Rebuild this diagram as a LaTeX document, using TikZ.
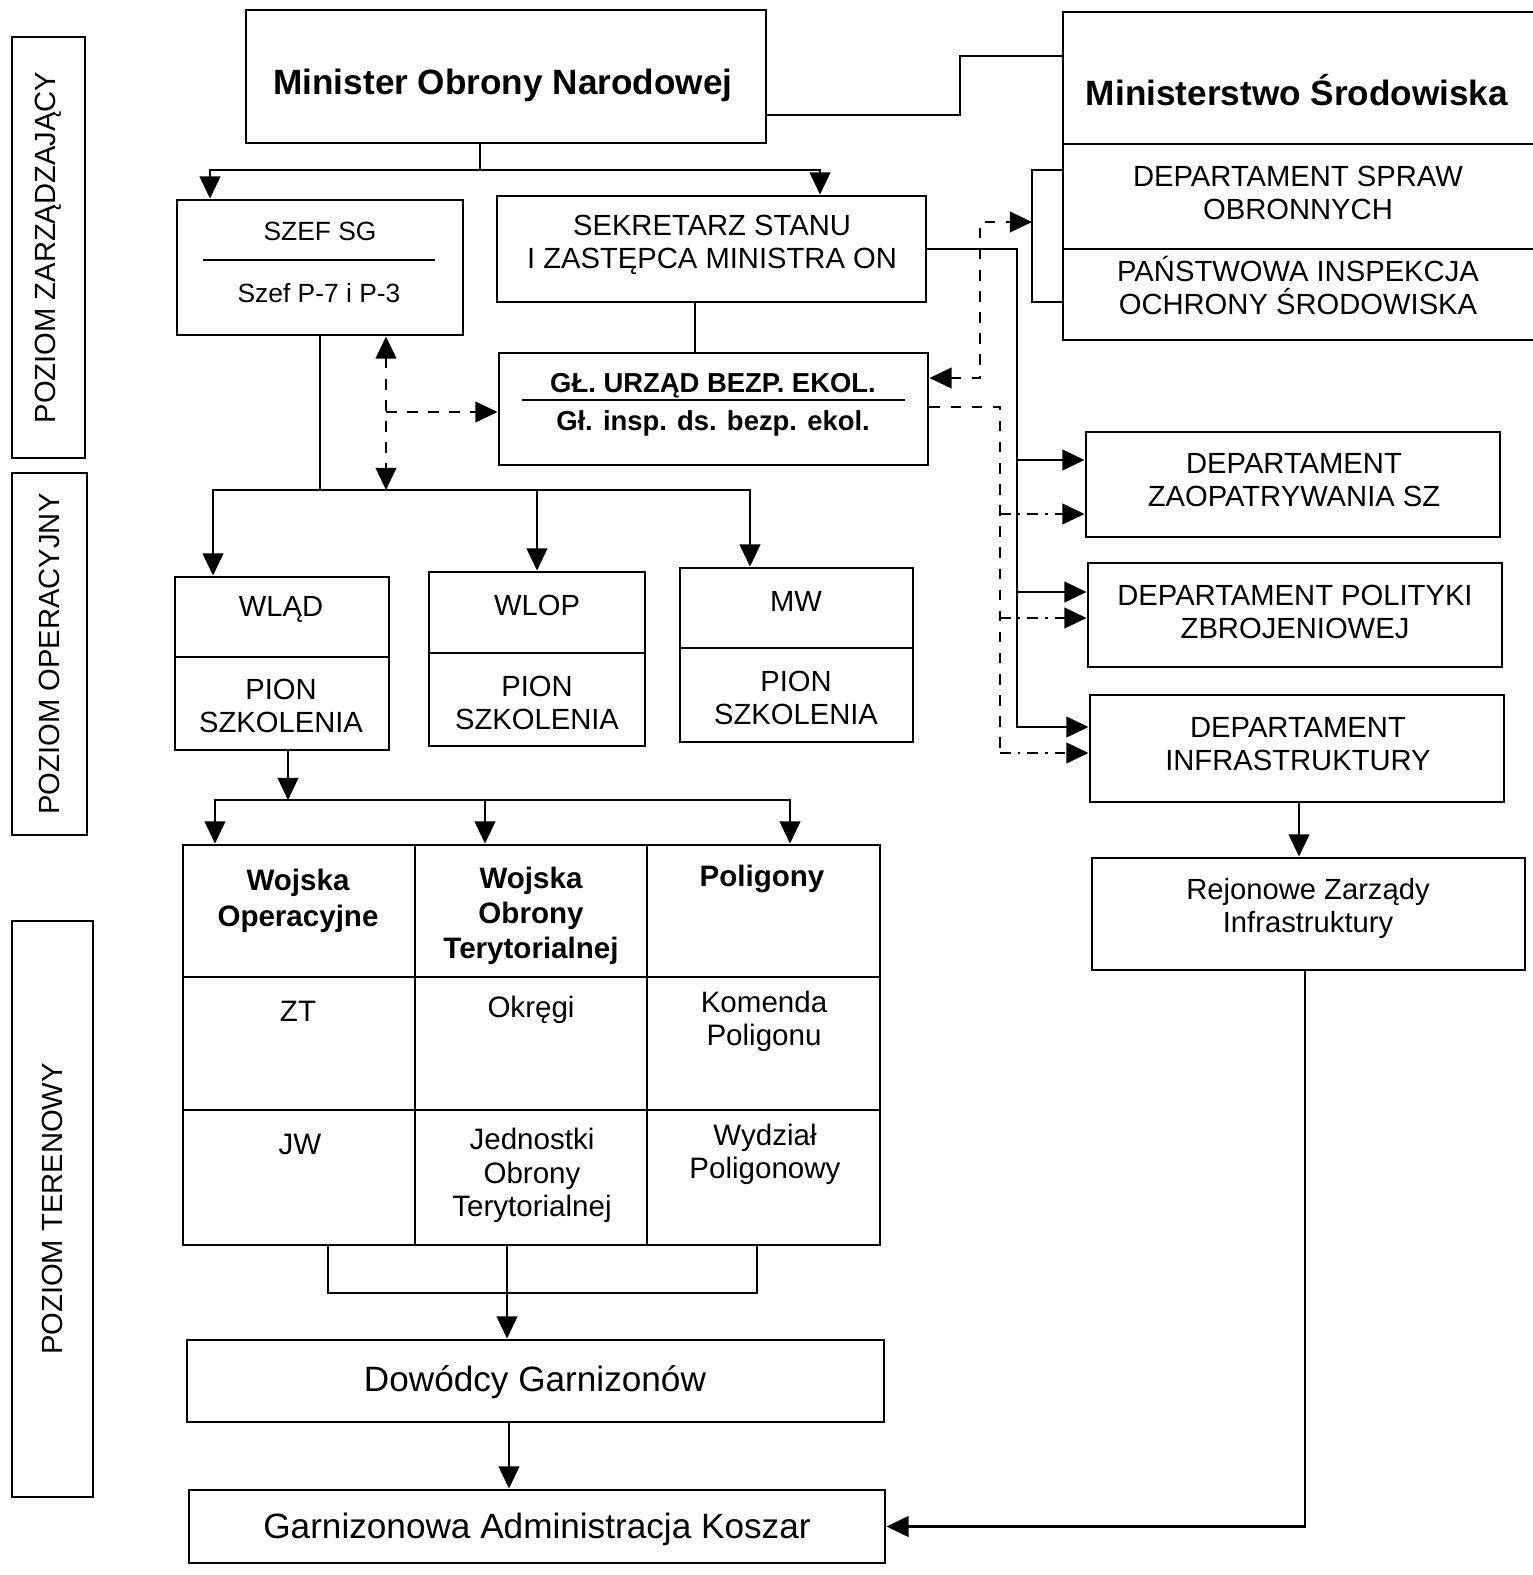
\documentclass[tikz,border=0pt]{standalone}
\usepackage{fontspec}
\setmainfont{Liberation Sans}
\usetikzlibrary{arrows.meta,fit}
\begin{document}
\begin{tikzpicture}[x=0.01cm,y=-0.01cm,
 box/.style={draw, line width=0.8pt, inner sep=0pt},
 conn/.style={line width=0.8pt},
 arr/.style={-{Triangle[length=6.3pt,width=5.8pt]}},
 darr/.style={{Triangle[length=6.3pt,width=5.8pt]}-{Triangle[length=6.3pt,width=5.8pt]}},
 txt/.style={font=\fontsize{8.3}{9.4}\selectfont, align=center, inner sep=0pt, yshift=-1.2pt},
 small/.style={font=\fontsize{7.5}{9}\selectfont, align=center, inner sep=0pt, yshift=-1pt},
 hdr/.style={font=\fontsize{8.4}{10}\selectfont\bfseries, align=center, inner sep=0pt, yshift=-1.4pt},
 cell/.style={font=\fontsize{8.4}{9.5}\selectfont, align=center, inner sep=0pt, yshift=-1.3pt},
 gl/.style={font=\fontsize{7.8}{9}\selectfont\bfseries, align=center, inner sep=0pt, yshift=-1pt},
 big/.style={font=\fontsize{10}{12}\selectfont\bfseries, align=center, inner sep=0pt, yshift=-1pt},
 large/.style={font=\fontsize{10}{12}\selectfont, align=center, inner sep=0pt, yshift=-1.3pt},
 lvl/.style={font=\fontsize{8.3}{10}\selectfont, inner sep=0pt, rotate=90}
]
\useasboundingbox (0,0) rectangle (1533,1575);

% level labels
\node[box, fit={(12,37)(85,458)}] (lv1) {};
\node[lvl] at (lv1.center) {POZIOM ZARZĄDZAJĄCY};
\node[box, fit={(12,473)(87,835)}] (lv2) {};
\node[lvl] at (lv2.center) {POZIOM OPERACYJNY};
\node[box, fit={(12,921)(93,1497)}] (lv3) {};
\node[lvl] at (lv3.center) {POZIOM TERENOWY};

% Minister
\node[box, fit={(246,10)(766,143)}] (min) {};
\node[big] at (503,82) {Minister Obrony Narodowej};

% Ministerstwo Srodowiska
\node[box, fit={(1063,12)(1545,144)}] (msA) {};
\node[box, fit={(1063,144)(1545,249)}] (msB) {};
\node[box, fit={(1063,249)(1545,340)}] (msC) {};
\node[big] at (1297,87) {Ministerstwo Środowiska};
\node[txt] at (1298,189) {DEPARTAMENT SPRAW\\OBRONNYCH};
\node[txt] at (1298,281) {PAŃSTWOWA INSPEKCJA\\OCHRONY ŚRODOWISKA};

% Szef SG
\node[box, fit={(177,200)(463,335)}] (szef) {};
\node[small] at (320,228) {SZEF SG};
\node[small] at (319,290) {Szef P-7 i P-3};
\draw[conn] (203,260) -- (435,260);

% Sekretarz
\node[box, fit={(497,196)(926,302)}] (sek) {};
\node[txt] at (712,241) {SEKRETARZ STANU\\I ZASTĘPCA MINISTRA ON};

% Gl. urzad
\node[box, fit={(499,353)(928,465)}] (gl) {};
\node[gl] at (713,382) {GŁ. URZĄD BEZP. EKOL.};
\draw[conn] (522,400) -- (905,400);
\node[gl] at (713,420) {Gł. insp. ds. bezp. ekol.};

% WLAD / WLOP / MW
\node[box, fit={(175,577)(389,657)}] (wladA) {};
\node[box, fit={(175,657)(389,750)}] (wladB) {};
\node[txt] at (281,605) {WLĄD};
\node[txt] at (281,702) {PION\\SZKOLENIA};
\node[box, fit={(429,572)(645,653)}] (wlopA) {};
\node[box, fit={(429,653)(645,746)}] (wlopB) {};
\node[txt] at (537,601) {WLOP};
\node[txt] at (537,699) {PION\\SZKOLENIA};
\node[box, fit={(680,568)(913,648)}] (mwA) {};
\node[box, fit={(680,648)(913,742)}] (mwB) {};
\node[txt] at (796,597) {MW};
\node[txt] at (796,694) {PION\\SZKOLENIA};

% Departments
\node[box, fit={(1086,432)(1500,537)}] (dz) {};
\node[txt] at (1294,476) {DEPARTAMENT\\ZAOPATRYWANIA SZ};
\node[box, fit={(1088,563)(1502,667)}] (dp) {};
\node[txt] at (1295,608) {DEPARTAMENT POLITYKI\\ZBROJENIOWEJ};
\node[box, fit={(1090,695)(1504,802)}] (di) {};
\node[txt] at (1298,740) {DEPARTAMENT\\INFRASTRUKTURY};
\node[box, fit={(1092,858)(1525,970)}] (rz) {};
\node[txt] at (1308,904) {Rejonowe Zarządy\\Infrastruktury};

% Table
\node[box, fit={(183,845)(415,977)}] (t11) {};
\node[box, fit={(415,845)(647,977)}] (t12) {};
\node[box, fit={(647,845)(880,977)}] (t13) {};
\node[box, fit={(183,977)(415,1110)}] (t21) {};
\node[box, fit={(415,977)(647,1110)}] (t22) {};
\node[box, fit={(647,977)(880,1110)}] (t23) {};
\node[box, fit={(183,1110)(415,1245)}] (t31) {};
\node[box, fit={(415,1110)(647,1245)}] (t32) {};
\node[box, fit={(647,1110)(880,1245)}] (t33) {};
\node[hdr] at (298,896) {Wojska\\Operacyjne};
\node[hdr] at (531,911) {Wojska\\Obrony\\Terytorialnej};
\node[hdr] at (762,874) {Poligony};
\node[cell] at (298,1007) {ZT};
\node[cell] at (531,1005) {Okręgi};
\node[cell] at (764,1017) {Komenda\\Poligonu};
\node[cell] at (300,1140) {JW};
\node[cell] at (532,1171) {Jednostki\\Obrony\\Terytorialnej};
\node[cell] at (765,1150) {Wydział\\Poligonowy};

% Bottom boxes
\node[box, fit={(187,1340)(884,1422)}] (dow) {};
\node[large] at (535,1378) {Dowódcy Garnizonów};
\node[box, fit={(189,1490)(885,1563)}] (gak) {};
\node[large] at (537,1525) {Garnizonowa Administracja Koszar};

% ---- connectors ----
\draw[conn] (min.east |- 0,115) -- (960,115) |- (msA.west |- 0,56);
\draw[conn] (min.south -| 480,0) -- (480,170);
\draw[conn,arr] (480,170) -| (szef.north -| 210,0);
\draw[conn,arr] (480,170) -| (sek.north -| 820,0);
\draw[conn] (sek.south -| 695,0) -- (gl.north -| 695,0);

% bracket on Ministerstwo
\draw[conn] (msB.west |- 0,170) -- (1032,170) -- (1032,302) -- (msC.west |- 0,302);
\coordinate (brk) at (1032,222);
\draw[conn,dashed,darr] (gl.east |- 0,378) -- (980,378) |- (brk);

% Sekretarz to departments
\draw[conn,arr] (sek.east) -- (1017,249) |- (di.west |- 0,727);
\draw[conn,arr] (1017,460) -- (dz.west |- 0,460);
\draw[conn,arr] (1017,592) -- (dp.west |- 0,592);

% GL to departments (dashed)
\draw[conn,dashed] (gl.east |- 0,407) -- (1000,407) -- (1000,753);
\draw[conn,dash dot,arr] (1000,514) -- (dz.west |- 0,514);
\draw[conn,dash dot,arr] (1000,618) -- (dp.west |- 0,618);
\draw[conn,dash dot,arr] (1000,753) -- (di.west |- 0,753);

% Szef SG down
\draw[conn] (szef.south -| 320,0) -- (320,490);
\draw[conn,arr] (320,490) -| (wladA.north -| 213,0);
\draw[conn,arr] (320,490) -| (mwA.north -| 750,0);
\draw[conn,arr] (537,490) -- (wlopA.north -| 537,0);
\coordinate (bar1) at (386,490);
\draw[conn,dashed,darr] (szef.south -| 386,0) -- (bar1);
\draw[conn,dashed,arr] (386,412) -- (gl.west |- 0,412);

% WLAD down to table
\coordinate (bar2) at (288,800);
\draw[conn,arr] (wladB.south -| 288,0) -- (bar2);
\draw[conn,arr] (bar2) -| (t11.north -| 215,0);
\draw[conn,arr] (bar2) -| (t13.north -| 790,0);
\draw[conn,arr] (485,800) -- (t12.north -| 485,0);

% table to Dowodcy
\draw[conn] (t31.south -| 328,0) -- (328,1293) -- (757,1293) -- (t33.south -| 757,0);
\draw[conn,arr] (t32.south -| 507,0) -- (dow.north -| 507,0);
\draw[conn,arr] (dow.south -| 509,0) -- (gak.north -| 509,0);

% right column
\draw[conn,arr] (di.south -| 1299,0) -- (rz.north -| 1299,0);
\draw[conn,arr] (rz.south -| 1305,0) |- (gak.east);
\end{tikzpicture}
\end{document}
